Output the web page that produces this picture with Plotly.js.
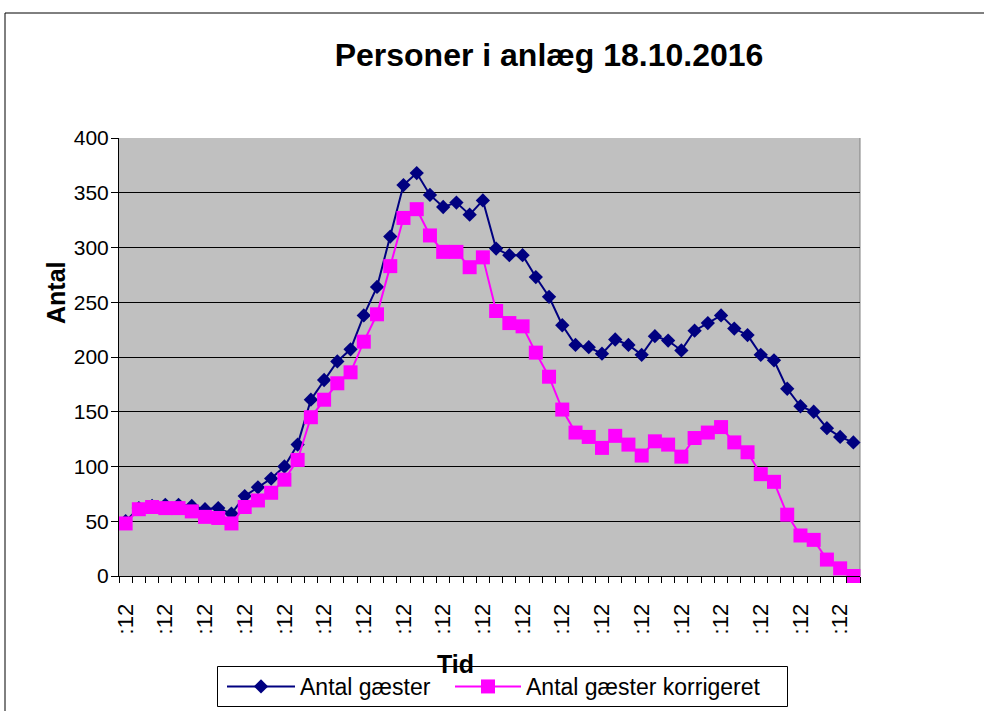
<!DOCTYPE html>
<html>
<head>
<meta charset="utf-8">
<script src="https://cdn.plot.ly/plotly-3.0.1.min.js"></script>
<style>
html,body{margin:0;padding:0;background:#fff;}
#chart{width:984px;height:711px;}
</style>
</head>
<body>
<div id="chart"></div>
<script>
// Category index (56 time slots), only every third slot is labelled
const slotIndex = [0,1,2,3,4,5,6,7,8,9,10,11,12,13,14,15,16,17,18,19,20,21,22,23,24,25,26,27,28,29,30,31,32,33,34,35,36,37,38,39,40,41,42,43,44,45,46,47,48,49,50,51,52,53,54,55];
const tickPositions = [0,3,6,9,12,15,18,21,24,27,30,33,36,39,42,45,48,51,54];
const tickLabels = [":12",":12",":12",":12",":12",":12",":12",":12",":12",":12",":12",":12",":12",":12",":12",":12",":12",":12",":12"];

const antalGaester = [50,62,64,65,65,64,61,62,57,73,81,89,100,120,161,179,196,207,238,264,310,357,368,348,337,341,330,343,299,293,293,273,255,229,211,209,203,216,211,202,219,215,206,224,231,238,226,220,202,197,171,155,150,135,127,122];
const antalGaesterKorrigeret = [48,61,63,62,62,59,54,53,48,63,69,76,88,106,145,161,176,186,214,239,283,327,335,311,296,296,282,291,242,231,228,204,182,152,131,127,117,128,120,110,123,120,109,126,131,136,122,113,93,86,56,37,33,15,7,0];

const FONT = "Liberation Sans, Arial, sans-serif";

const traces = [
  {
    x: slotIndex, y: antalGaester, name: "Antal gæster", type: "scatter", mode: "lines+markers",
    line: {color: "#000080", width: 2},
    marker: {symbol: "diamond", size: 11, color: "#000080"},
    cliponaxis: false, legend: "legend"
  },
  {
    x: slotIndex, y: antalGaesterKorrigeret, name: "Antal gæster korrigeret", type: "scatter", mode: "lines+markers",
    line: {color: "#FF00FF", width: 2},
    marker: {symbol: "square", size: 14, color: "#FF00FF"},
    cliponaxis: false, legend: "legend2"
  }
];

const L = 119, R = 860, T = 138, B = 576;
const px = v => (v - L) / (R - L);
const py = v => (B - v) / (B - T);

const legendCommon = {
  orientation: "h",
  xref: "container", yref: "container",
  xanchor: "left", yanchor: "top",
  y: 1 - 665 / 711,
  bgcolor: "rgba(0,0,0,0)", borderwidth: 0,
  font: {family: FONT, size: 23, color: "#000"}
};

const layout = {
  width: 984, height: 711,
  margin: {l: L, r: 984 - R, t: T, b: 711 - B, pad: 0, autoexpand: false},
  paper_bgcolor: "#ffffff",
  plot_bgcolor: "#C0C0C0",
  font: {family: FONT, color: "#000", size: 20},
  title: {
    text: "<b>Personer i anlæg 18.10.2016</b>",
    font: {family: FONT, size: 32, color: "#000"},
    xref: "container", yref: "container",
    x: 549 / 984, xanchor: "center",
    y: 1 - 55 / 711, yanchor: "middle"
  },
  xaxis: {
    type: "linear",
    range: [-0.5, 55.5],
    tickmode: "array", tickvals: tickPositions, ticktext: tickLabels,
    tickangle: -90,
    ticks: "outside", ticklen: 6, tickcolor: "rgba(0,0,0,0)",
    ticklabelstandoff: 12,
    minor: {tick0: -0.5, dtick: 1, ticks: "outside", ticklen: 6, tickcolor: "#000", tickwidth: 1, showgrid: false},
    tickfont: {family: FONT, size: 22, color: "#000"},
    showgrid: false, zeroline: false,
    showline: true, linecolor: "#000", linewidth: 1,
    automargin: false,
    fixedrange: true
  },
  yaxis: {
    range: [0, 400], dtick: 50, tick0: 0,
    ticks: "outside", ticklen: 7, tickcolor: "#000",
    ticklabelstandoff: -2,
    tickfont: {family: FONT, size: 21, color: "#000"},
    showgrid: true, gridcolor: "#000", gridwidth: 1,
    zeroline: false,
    showline: true, linecolor: "#000", linewidth: 1,
    automargin: false,
    fixedrange: true
  },
  showlegend: true,
  legend: Object.assign({}, legendCommon, {x: 222 / 984, itemwidth: 68}),
  legend2: Object.assign({}, legendCommon, {x: 450 / 984, itemwidth: 66}),
  annotations: [
    {text: "<b>Antal</b>", textangle: -90, xref: "paper", yref: "paper",
     x: px(56), y: py(293), xanchor: "center", yanchor: "middle", showarrow: false,
     font: {family: FONT, size: 25, color: "#000"}},
    {text: "<b>Tid</b>", xref: "paper", yref: "paper",
     x: px(455), y: py(664), xanchor: "center", yanchor: "middle", showarrow: false,
     font: {family: FONT, size: 25, color: "#000"}}
  ],
  shapes: [
    {type: "line", xref: "paper", yref: "paper", x0: 1, x1: 1, y0: 0, y1: 1,
     line: {color: "#808080", width: 1}, layer: "below"},
    {type: "line", xref: "paper", yref: "paper", x0: px(5), x1: px(5), y0: py(13), y1: py(720),
     line: {color: "#000", width: 1}},
    {type: "line", xref: "paper", yref: "paper", x0: px(5), x1: px(1000), y0: py(13), y1: py(13),
     line: {color: "#000", width: 1}},
    // legend frame
    {type: "rect", xref: "paper", yref: "paper", x0: px(217.5), x1: px(787.5), y0: py(706.5), y1: py(666.5),
     line: {color: "#000", width: 1}, fillcolor: "#ffffff", layer: "above"}
  ]
};

Plotly.newPlot("chart", traces, layout, {displayModeBar: false, staticPlot: true});
</script>
</body>
</html>
